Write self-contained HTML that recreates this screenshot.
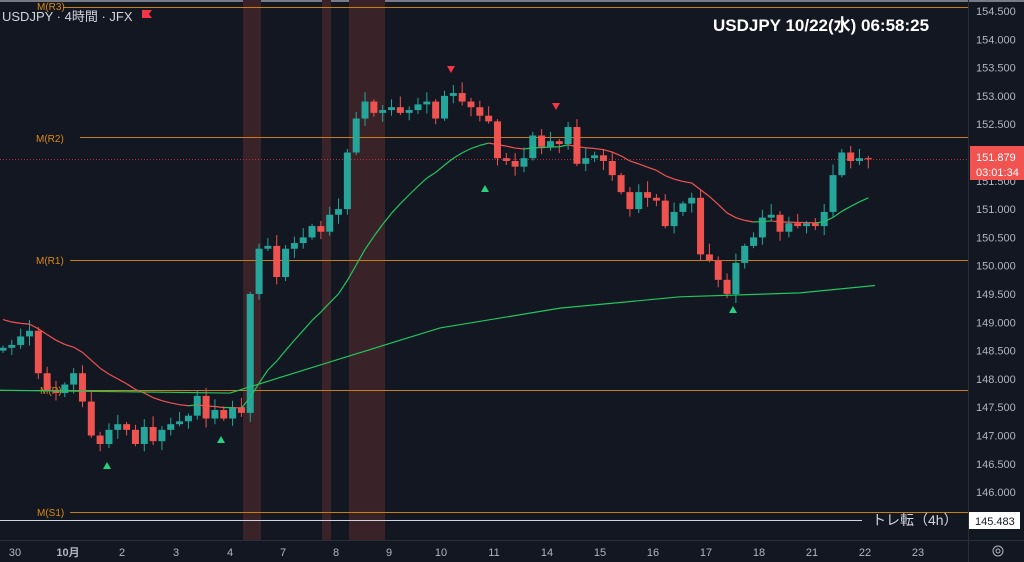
<!DOCTYPE html><html><head><meta charset="utf-8"><style>
body{margin:0;background:#131722;width:1024px;height:562px;overflow:hidden;font-family:"Liberation Sans","Noto Sans CJK JP",sans-serif}
svg{display:block}
</style></head><body>
<svg id="s" width="1024" height="562" xmlns="http://www.w3.org/2000/svg">
<rect width="1024" height="562" fill="#131722"/>
<rect x="0" y="0" width="1024" height="2" fill="#787b86"/>
<rect x="243" y="0" width="18" height="540" fill="#3a2328"/>
<rect x="322" y="0" width="9" height="540" fill="#3a2328"/>
<rect x="349" y="0" width="36" height="540" fill="#3a2328"/>
<g stroke="#c77f12" stroke-width="1">
<line x1="63" y1="7.5" x2="968" y2="7.5"/><line x1="80" y1="137.5" x2="968" y2="137.5"/>
<line x1="70" y1="260.5" x2="968" y2="260.5"/><line x1="0" y1="390.5" x2="968" y2="390.5"/>
<line x1="70" y1="512.5" x2="968" y2="512.5"/></g>
<g fill="#d98a12" font-size="10"><text x="37" y="10">M(R3)</text><text x="36" y="142">M(R2)</text><text x="36" y="264">M(R1)</text><text x="40" y="394">M(P)</text><text x="37" y="516">M(S1)</text></g>
<line x1="0" y1="520.5" x2="862" y2="520.5" stroke="#d1d4dc"/>
<text x="872" y="525" fill="#d1d4dc" font-size="14">トレ転（4h）</text>
<line x1="0" y1="159.5" x2="968" y2="159.5" stroke="#f23645" stroke-dasharray="1,2" opacity="0.7"/>
<g id="c"></g>
<line x1="968.5" y1="0" x2="968.5" y2="562" stroke="#2a2e39"/>
<line x1="0" y1="540.5" x2="1024" y2="540.5" stroke="#2a2e39"/>
<g id="ax" fill="#b2b5be" font-size="11"></g>
<rect x="970" y="146" width="54" height="34" fill="#f05350"/>
<text x="976" y="161" fill="#fff" font-size="11">151.879</text><text x="976" y="176" fill="#fff" font-size="11">03:01:34</text>
<rect x="969" y="512" width="51" height="17" fill="#fff"/><text x="975" y="525" fill="#131722" font-size="11">145.483</text>
<text x="2" y="21" fill="#d1d4dc" font-size="13">USDJPY · 4時間 · JFX</text>
<path d="M142 10h10l-3 4 3 4h-10z" fill="#f23645"/>
<text x="713" y="31" fill="#fff" font-size="17" font-weight="bold">USDJPY  10/22(水)  06:58:25</text>
<g fill="#b2b5be" font-size="11" id="dx"></g>
<circle cx="998" cy="551" r="5" fill="none" stroke="#b2b5be"/><circle cx="998" cy="551" r="2" fill="none" stroke="#b2b5be"/>
<g fill="#f23645"><path d="M447 66h8l-4 7z"/><path d="M552 103h8l-4 7z"/></g>
<g fill="#26d07c"><path d="M481 192h8l-4-7z"/><path d="M103 469h8l-4-7z"/><path d="M217 443h8l-4-7z"/><path d="M729 313h8l-4-7z"/></g>
</svg>
<script>
const Y=p=>11+(154.5-p)*56.6;
const ns='http://www.w3.org/2000/svg';
function el(t,a,par){const e=document.createElementNS(ns,t);for(const k in a)e.setAttribute(k,a[k]);(par||document.getElementById('c')).appendChild(e);return e;}
const ax=document.getElementById('ax');
for(let p=146;p<=154.5;p+=0.5){const t=el('text',{x:976,y:Y(p)+4},ax);t.textContent=p.toFixed(3);}
const days=[[15,'30'],[68,'10月'],[122,'2'],[176,'3'],[230,'4'],[283,'7'],[336,'8'],[389,'9'],[441,'10'],[494,'11'],[547,'14'],[600,'15'],[653,'16'],[706,'17'],[759,'18'],[812,'21'],[865,'22'],[918,'23']];
const dx=document.getElementById('dx');
days.forEach(([x,t])=>{const e=el('text',{x:x,y:556,'text-anchor':'middle'},dx);e.textContent=t;if(t=='10月')e.setAttribute('font-weight','bold');});
const cl=[148.55,148.6,148.75,148.85,148.1,147.8,147.75,147.9,148.1,147.6,147.0,146.85,147.1,147.2,147.1,146.85,147.15,146.9,147.1,147.2,147.25,147.35,147.7,147.3,147.45,147.3,147.5,147.4,149.5,150.3,150.35,149.8,150.3,150.4,150.5,150.7,150.6,150.9,151.0,152.0,152.6,152.9,152.7,152.75,152.8,152.7,152.75,152.85,152.9,152.6,153.0,153.05,152.9,152.8,152.65,152.55,151.9,151.85,151.75,151.9,152.3,152.1,152.2,152.15,152.45,151.8,151.9,151.95,151.85,151.6,151.3,151.0,151.3,151.2,151.15,150.7,150.95,151.1,151.2,150.2,150.1,149.75,149.5,150.05,150.35,150.5,150.85,150.9,150.6,150.75,150.7,150.75,150.7,150.95,151.6,152.0,151.85,151.9,151.88];
let op=148.5,e20=149.1,pts=[];
cl.forEach((c,i)=>{const x=3+i*8.83;const o=op;const hi=Math.max(o,c)+0.04+((i*37)%7)*0.025,lo=Math.min(o,c)-0.04-((i*53)%5)*0.03;
const col=c>=o?'#26a69a':'#ef5350';
el('line',{x1:x,y1:Y(hi),x2:x,y2:Y(lo),stroke:col});
const t=Y(Math.max(o,c)),h=Math.max(1,Math.abs(Y(o)-Y(c)));el('rect',{x:x-3.5,y:t,width:7,height:h,fill:col});
const prev=e20; e20+= (c-e20)*2/21; pts.push([x,Y(e20),e20>=prev]); op=c;});
for(let i=1;i<pts.length;i++){el('line',{x1:pts[i-1][0],y1:pts[i-1][1],x2:pts[i][0],y2:pts[i][1],stroke:pts[i][2]?'#22c55e':'#f05350','stroke-width':1.2});}
const L=[[0,147.8],[230,147.75],[330,148.3],[440,148.9],[560,149.25],[680,149.45],[800,149.52],[875,149.65]];
el('polyline',{points:L.map(([x,p])=>x+','+Y(p)).join(' '),fill:'none',stroke:'#22c55e','stroke-width':1.2});
</script>
</body></html>
